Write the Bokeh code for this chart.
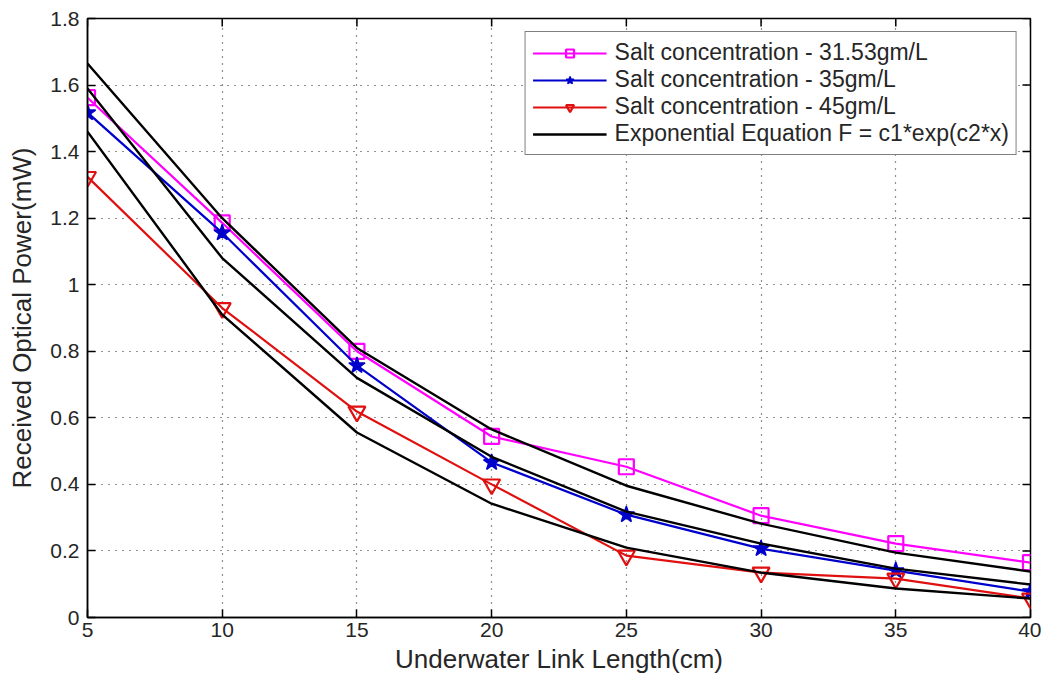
from bokeh.plotting import figure
from bokeh.models import Range1d, FixedTicker, Legend, LegendItem
from bokeh.embed import file_html
from bokeh.resources import INLINE

# ---- data ----
x_cm = [5, 10, 15, 20, 25, 30, 35, 40]
salt_3153 = [1.562, 1.186, 0.800, 0.544, 0.453, 0.306, 0.222, 0.165]
salt_35 = [1.517, 1.156, 0.757, 0.466, 0.309, 0.207, 0.141, 0.078]
salt_45 = [1.324, 0.930, 0.619, 0.400, 0.186, 0.135, 0.117, 0.057]
fit_3153 = [1.665, 1.200, 0.810, 0.565, 0.396, 0.282, 0.195, 0.138]
fit_35 = [1.590, 1.080, 0.720, 0.483, 0.318, 0.222, 0.147, 0.099]
fit_45 = [1.460, 0.910, 0.556, 0.342, 0.210, 0.135, 0.087, 0.057]
x_ticks = [5, 10, 15, 20, 25, 30, 35, 40]
y_ticks = [0, 0.2, 0.4, 0.6, 0.8, 1.0, 1.2, 1.4, 1.6, 1.8]
y_tick_labels = ["0", "0.2", "0.4", "0.6", "0.8", "1", "1.2", "1.4", "1.6", "1.8"]
labels = ["Salt concentration - 31.53gm/L", "Salt concentration - 35gm/L",
          "Salt concentration - 45gm/L", "Exponential Equation F = c1*exp(c2*x)"]

X_MIN, X_MAX = 5, 40
Y_MIN, Y_MAX = 0, 1.8

FONT = "Liberation Sans"
TXT = "#262626"

p = figure(width=1041, height=677, output_backend="svg", toolbar_location=None,
           x_range=Range1d(X_MIN, X_MAX), y_range=Range1d(Y_MIN, Y_MAX),
           min_border_left=87, min_border_right=11, min_border_top=18, min_border_bottom=60)
p.outline_line_color = "black"
p.outline_line_width = 1.5
p.background_fill_color = "white"
p.border_fill_color = "white"

for ax in [p.xaxis[0], p.yaxis[0]]:
    ax.major_label_text_font = FONT
    ax.major_label_text_font_size = "21px"
    ax.major_label_text_color = TXT
    ax.axis_label_text_font = FONT
    ax.axis_label_text_font_size = "26px"
    ax.axis_label_text_font_style = "normal"
    ax.axis_label_text_color = TXT
    ax.major_tick_in = 8
    ax.major_tick_out = 0
    ax.minor_tick_line_color = None
    ax.axis_line_color = "black"
    ax.axis_line_width = 1.5
    ax.major_tick_line_color = "black"
    ax.major_tick_line_width = 1.5

p.xaxis.ticker = FixedTicker(ticks=x_ticks)
p.yaxis.ticker = FixedTicker(ticks=y_ticks)
p.yaxis.major_label_overrides = {t: l for t, l in zip(y_ticks, y_tick_labels)}
p.xaxis.axis_label = "Underwater Link Length(cm)"
p.yaxis.axis_label = "Received Optical Power(mW)"
p.xaxis.major_label_standoff = 5
p.yaxis.major_label_standoff = 8
p.xaxis.axis_label_standoff = 4
p.yaxis.axis_label_standoff = 10

# inward tick marks on top and right edges (box style)
tick_len_y = (Y_MAX - Y_MIN) * 8 / 599
tick_len_x = (X_MAX - X_MIN) * 8 / 943
p.segment(x0=x_ticks, y0=[Y_MAX] * len(x_ticks), x1=x_ticks,
          y1=[Y_MAX - tick_len_y] * len(x_ticks), line_color="black", line_width=1.5)
p.segment(x0=[X_MAX] * len(y_ticks), y0=y_ticks, x1=[X_MAX - tick_len_x] * len(y_ticks),
          y1=y_ticks, line_color="black", line_width=1.5)

p.xgrid.grid_line_color = "#222222"
p.ygrid.grid_line_color = "#222222"
p.xgrid.grid_line_dash = "1 6"
p.ygrid.grid_line_dash = "1 6"
p.xgrid.grid_line_width = 1.2
p.ygrid.grid_line_width = 1.2

MAG = "#FF00FF"
BLU = "#0000CC"
RED = "#E01010"

l1 = p.line(x_cm, salt_3153, line_color=MAG, line_width=2.2)
m1 = p.scatter(x_cm, salt_3153, marker="square", size=15, line_color=MAG,
               fill_color=None, line_width=2.2)
l2 = p.line(x_cm, salt_35, line_color=BLU, line_width=2.2)
m2 = p.scatter(x_cm, salt_35, marker="star", size=17, line_color=BLU,
               fill_color=BLU, line_width=1.5)
l3 = p.line(x_cm, salt_45, line_color=RED, line_width=2.2)
m3 = p.scatter(x_cm, salt_45, marker="inverted_triangle", size=17, line_color=RED,
               fill_color=None, line_width=2.2)
f1 = p.line(x_cm, fit_3153, line_color="black", line_width=2.4)
f2 = p.line(x_cm, fit_35, line_color="black", line_width=2.4)
f3 = p.line(x_cm, fit_45, line_color="black", line_width=2.4)

legend = Legend(items=[
    LegendItem(label=labels[0], renderers=[l1, m1]),
    LegendItem(label=labels[1], renderers=[l2, m2]),
    LegendItem(label=labels[2], renderers=[l3, m3]),
    LegendItem(label=labels[3], renderers=[f1]),
], location="top_right")
legend.label_text_font = FONT
legend.label_text_font_size = "23px"
legend.label_text_color = TXT
legend.glyph_width = 74
legend.glyph_height = 20
legend.label_height = 20
legend.spacing = 0
legend.padding = 7
legend.margin = 13
legend.label_standoff = 8
legend.border_line_color = "black"
legend.border_line_width = 1.5
legend.background_fill_alpha = 1
p.add_layout(legend, "center")

open("out.html", "w").write(file_html(p, INLINE))
